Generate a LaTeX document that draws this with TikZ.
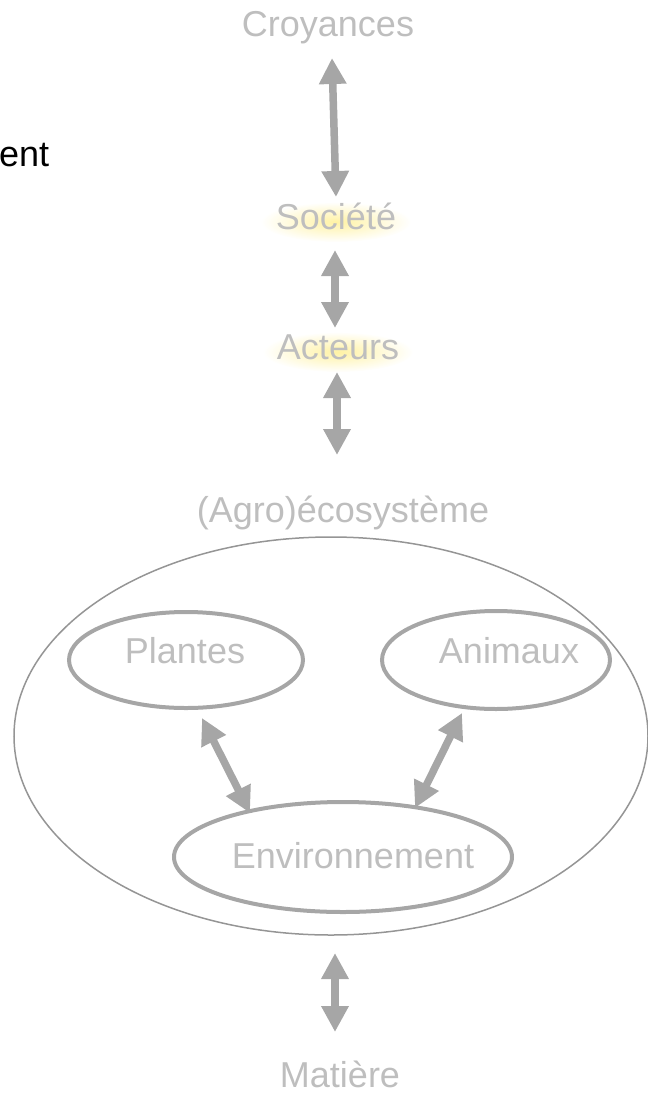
\documentclass[tikz,border=0pt]{standalone}
\usepackage{fontspec}
\setmainfont{Liberation Sans}
\usetikzlibrary{arrows.meta,fadings}
\definecolor{txtgray}{RGB}{190,190,190}
\definecolor{arrgray}{RGB}{166,166,166}
\definecolor{glow}{RGB}{255,232,90}
\tikzfading[name=softglow, inner color=transparent!0, outer color=transparent!100]
\tikzset{
	lbl/.style={anchor=base, inner sep=0pt, text=txtgray, font=\fontsize{36}{40}\selectfont},
	dbl/.style={{Triangle[width=26pt,length=26pt]}-{Triangle[width=26pt,length=26pt]}, line width=7.5pt, arrgray},
	ring/.style={draw=arrgray, line width=4pt},
	halo/.style={fill=glow, path fading=softglow, fill opacity=0.55}
}
\begin{document}
\begin{tikzpicture}[x=1pt, y=-1pt]
	\useasboundingbox (0, 0) rectangle (648, 1098);

	% soft glow behind Societe and Acteurs
	\fill[halo] (336, 222) ellipse [x radius=75, y radius=20];
	\fill[halo] (338, 352) ellipse [x radius=75, y radius=20];

	\node[lbl] (cro) at (328, 36) {Croyances};
	\node[lbl] (soc) at (336, 229) {Société};
	\node[lbl] (act) at (338, 359) {Acteurs};
	\node[lbl] (eco) at (343, 522) {(Agro)écosystème};
	\node[lbl] (mat) at (340, 1087) {Matière};
	\node[anchor=base west, inner sep=0pt, font=\fontsize{36}{40}\selectfont] (ent) at (-1, 166) {ent};

	% ellipses
	\draw[arrgray!90!black, line width=1.5pt] (331, 736) ellipse [x radius=317, y radius=199];
	\draw[ring] (186, 660) ellipse [x radius=117, y radius=48];
	\draw[ring] (496, 660) ellipse [x radius=114, y radius=49];
	\draw[ring] (343, 857) ellipse [x radius=169, y radius=55];
	\node[lbl] (pla) at (185, 663) {Plantes};
	\node[lbl] (ani) at (509, 663) {Animaux};
	\node[lbl] (env) at (353, 868) {Environnement};

	% arrow ends
	\coordinate (c1) at (332, 58);
	\coordinate (s1) at (336, 197);
	\coordinate (s2) at (335, 250);
	\coordinate (a2) at (335, 328);
	\coordinate (a3) at (337, 372);
	\coordinate (e3) at (337, 455);
	\coordinate (p4) at (202, 718);
	\coordinate (v4) at (250, 813);
	\coordinate (n5) at (462, 713);
	\coordinate (v5) at (415, 808);
	\coordinate (v6) at (335, 953);
	\coordinate (m6) at (335, 1032);

	\draw[dbl] (c1) -- (s1);
	\draw[dbl] (s2) -- (a2);
	\draw[dbl] (a3) -- (e3);
	\draw[dbl] (p4) -- (v4);
	\draw[dbl] (n5) -- (v5);
	\draw[dbl] (v6) -- (m6);
\end{tikzpicture}
\end{document}
